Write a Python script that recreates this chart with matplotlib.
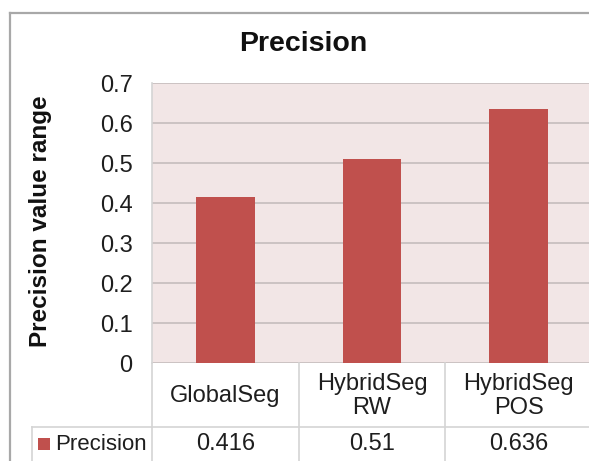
import matplotlib
matplotlib.use("Agg")
import matplotlib.pyplot as plt
from matplotlib.lines import Line2D
from matplotlib.patches import Rectangle
from matplotlib.transforms import blended_transform_factory

categories = ["GlobalSeg", "HybridSeg\nRW", "HybridSeg\nPOS"]
values = [0.416, 0.51, 0.636]
yticks = [0, 0.1, 0.2, 0.3, 0.4, 0.5, 0.6, 0.7]
ytick_labels = ["0", "0.1", "0.2", "0.3", "0.4", "0.5", "0.6", "0.7"]
series_name = "Precision"
title = "Precision"
ylabel = "Precision value range"

W, H = 589, 461
plt.rcParams['font.family'] = ['Liberation Sans', 'DejaVu Sans']
fig = plt.figure(figsize=(W / 100, H / 100), dpi=100)
fig.patch.set_facecolor("white")

def fx(px):
    return px / W

def fy(py):
    return 1 - py / H

ax_left, ax_right, ax_top, ax_bot = 152, 592, 83, 363
ax = fig.add_axes([fx(ax_left), fy(ax_bot), (ax_right - ax_left) / W, (ax_bot - ax_top) / H])
ax.set_facecolor("#f2e6e6")

bar_color = "#c0504d"
grid_color = "#c8c0c0"
table_color = "#d4d4d4"
text_color = "#1e1e1e"

x = list(range(len(categories)))
ax.bar(x, values, width=0.4, color=bar_color, zorder=3)
ax.set_xlim(-0.5, len(categories) - 0.5)
ax.set_ylim(0, 0.7)
ax.set_yticks(yticks)
ax.set_yticklabels(ytick_labels, fontsize=17, color=text_color)
ax.tick_params(axis="y", length=0, pad=14)
ax.set_xticks([])
ax.yaxis.grid(True, color=grid_color, linewidth=1.3, zorder=0)
ax.set_axisbelow(True)
for s in ["top", "right", "bottom"]:
    ax.spines[s].set_visible(False)
ax.spines["left"].set_color(table_color)
ax.spines["left"].set_linewidth(1.2)

# data table below the axes
trans = blended_transform_factory(ax.transData, ax.transAxes)
row1 = -(427 - ax_bot) / (ax_bot - ax_top)
row_bottom = -(470 - ax_bot) / (ax_bot - ax_top)
row1_mid = -(396 - ax_bot) / (ax_bot - ax_top)
row2_mid = -(444 - ax_bot) / (ax_bot - ax_top)
for b in [i - 0.5 for i in range(len(categories) + 1)]:
    ax.add_line(Line2D([b, b], [0, row_bottom], transform=trans, color=table_color,
                       lw=1.2, clip_on=False))
ax.add_line(Line2D([-0.5, len(categories) - 0.5], [row1, row1], transform=trans,
                   color=table_color, lw=1.2, clip_on=False))
for i, (c, v) in enumerate(zip(categories, values)):
    ax.text(i, row1_mid, c, transform=trans, ha="center", va="center",
            fontsize=17, color=text_color, linespacing=1.1)
    ax.text(i, row2_mid, f"{v:g}", transform=trans, ha="center", va="center",
            fontsize=17, color=text_color)

# legend-key header cell
fig.add_artist(Line2D([fx(32), fx(152)], [fy(427), fy(427)], color=table_color, lw=1.2))
fig.add_artist(Line2D([fx(32), fx(32)], [fy(427), fy(470)], color=table_color, lw=1.2))
fig.add_artist(Rectangle((fx(38), fy(450)), 12 / W, 12 / H, transform=fig.transFigure,
                         facecolor=bar_color, edgecolor="none"))
fig.text(fx(55), fy(444), series_name, ha="left", va="center", fontsize=16, color=text_color)

# title and y label
fig.text(fx(303), fy(44), title, ha="center", va="center", fontsize=20.5,
         fontweight="bold", color="#111111")
fig.text(fx(41), fy(221), ylabel, ha="center", va="center", rotation=90,
         fontsize=17.5, fontweight="bold", color="#111111")

# outer chart frame (partially cropped)
fig.add_artist(Line2D([fx(10), 1.0], [fy(13), fy(13)], color="#a8a8a8", lw=1.6))
fig.add_artist(Line2D([fx(10), fx(10)], [fy(13), 0.0], color="#a8a8a8", lw=1.6))

fig.savefig("out.png", dpi=100)
